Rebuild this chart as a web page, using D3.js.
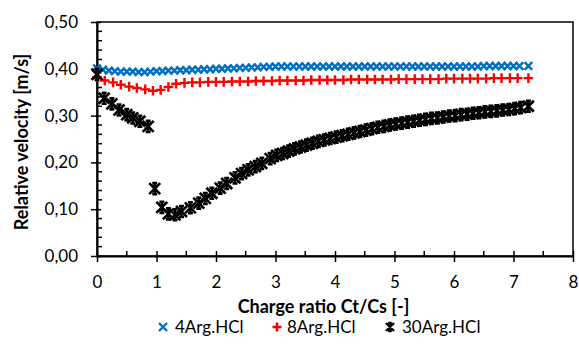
<!DOCTYPE html>
<html><head><meta charset="utf-8">
<script src="https://cdn.jsdelivr.net/npm/d3@7"></script>
<style>body{margin:0;background:#fff}svg{display:block}text{font-family:Lato,"Open Sans",sans-serif;fill:#000}</style>
</head><body><svg id="c" width="579" height="347"></svg>
<script>
const yTicks=[0,0.1,0.2,0.3,0.4,0.5];
const xTicks=[0,1,2,3,4,5,6,7,8];
const seriesNames=["4Arg.HCl","8Arg.HCl","30Arg.HCl"];
const blueX=[0,0.1,0.2,0.3,0.4,0.5,0.6,0.7,0.8,0.9,1.0,1.1,1.2,1.3,1.4,1.5,1.6,1.7,1.8,1.9,2.0,2.1,2.2,2.3,2.4,2.5,2.6,2.7,2.8,2.9,3.0,3.1,3.2,3.3,3.4,3.5,3.6,3.7,3.8,3.9,4.0,4.1,4.2,4.3,4.4,4.5,4.6,4.7,4.8,4.9,5.0,5.1,5.2,5.3,5.4,5.5,5.6,5.7,5.8,5.9,6.0,6.1,6.2,6.3,6.4,6.5,6.6,6.7,6.8,6.9,7.0,7.1,7.25];
const blueY=[0.401,0.398,0.396,0.395,0.394,0.394,0.394,0.393,0.393,0.394,0.395,0.395,0.396,0.396,0.397,0.397,0.398,0.398,0.399,0.399,0.400,0.400,0.401,0.401,0.402,0.402,0.403,0.403,0.404,0.404,0.405,0.405,0.405,0.405,0.405,0.405,0.405,0.405,0.405,0.405,0.405,0.405,0.405,0.405,0.405,0.405,0.405,0.405,0.405,0.405,0.405,0.405,0.405,0.405,0.405,0.405,0.405,0.405,0.405,0.405,0.405,0.405,0.405,0.405,0.405,0.406,0.406,0.406,0.406,0.406,0.406,0.406,0.406];
const redX=[0,0.13,0.27,0.4,0.54,0.67,0.81,0.94,1.07,1.2,1.33,1.47,1.6,1.73,1.87,2.0,2.13,2.27,2.4,2.54,2.67,2.8,2.94,3.07,3.2,3.34,3.47,3.6,3.74,3.87,4.0,4.14,4.27,4.4,4.54,4.67,4.8,4.94,5.07,5.2,5.34,5.47,5.6,5.74,5.87,6.0,6.14,6.27,6.4,6.54,6.67,6.8,6.94,7.07,7.25];
const redY=[0.382,0.375,0.371,0.366,0.362,0.359,0.356,0.353,0.355,0.361,0.368,0.370,0.371,0.371,0.372,0.372,0.372,0.373,0.373,0.373,0.374,0.374,0.374,0.375,0.375,0.375,0.375,0.376,0.376,0.376,0.376,0.376,0.377,0.377,0.377,0.377,0.377,0.377,0.378,0.378,0.378,0.378,0.378,0.378,0.379,0.379,0.379,0.379,0.379,0.379,0.380,0.380,0.380,0.380,0.380];
const blackX=[0,0.12,0.25,0.37,0.5,0.6,0.72,0.86,0.97,1.09,1.2,1.31,1.42,1.57,1.71,1.82,1.93,2.07,2.18,2.32,2.43,2.54,2.66,2.77,2.91,3.02,3.12,3.22,3.32,3.42,3.52,3.62,3.72,3.82,3.92,4.02,4.12,4.22,4.32,4.42,4.52,4.62,4.72,4.82,4.92,5.02,5.12,5.22,5.32,5.42,5.52,5.62,5.72,5.82,5.92,6.02,6.12,6.22,6.32,6.42,6.52,6.62,6.72,6.82,6.92,7.02,7.12,7.25];
const blackY=[0.388,0.337,0.325,0.312,0.302,0.295,0.288,0.277,0.144,0.104,0.090,0.088,0.095,0.103,0.113,0.123,0.134,0.145,0.155,0.167,0.176,0.184,0.191,0.198,0.208,0.215,0.219,0.224,0.229,0.233,0.237,0.241,0.245,0.248,0.251,0.254,0.257,0.260,0.263,0.266,0.269,0.272,0.275,0.277,0.280,0.282,0.284,0.286,0.288,0.290,0.292,0.294,0.295,0.297,0.299,0.300,0.302,0.303,0.305,0.306,0.308,0.309,0.310,0.312,0.313,0.315,0.317,0.320];

const svg=d3.select("#c");
const L=97,R=573,T=22,B=256;
const x=d3.scaleLinear().domain([0,8]).range([L,R]);
const y=d3.scaleLinear().domain([0,0.5]).range([B,T]);
const fmt=d=>d3.format(".2f")(d).replace(".",",");

// frame
svg.append("rect").attr("x",L).attr("y",T).attr("width",R-L).attr("height",B-T).attr("fill","none").attr("stroke","#000").attr("stroke-width",1.5);

// y axis
const yAx=svg.append("g").attr("transform",`translate(${L},0)`);
yAx.call(d3.axisLeft(y).tickValues(yTicks).tickFormat(fmt).tickSize(6).tickSizeOuter(0));
yAx.select(".domain").attr("stroke-width",2);
yAx.selectAll(".tick line").attr("x2",4).attr("x1",-6).attr("stroke-width",1.5);
yAx.selectAll(".tick text").attr("x",-19).style("font-size","17px").style("font-family","Lato");
const yMinor=d3.range(0,0.501,0.02).filter(v=>Math.abs(Math.round(v*10)-v*10)>1e-6);
yAx.selectAll(".minor").data(yMinor).enter().append("line").attr("x1",0).attr("x2",5).attr("y1",d=>y(d)).attr("y2",d=>y(d)).attr("stroke","#000").attr("stroke-width",1.5);

// x axis
const xAx=svg.append("g").attr("transform",`translate(0,${B})`);
xAx.call(d3.axisBottom(x).tickValues(xTicks).tickFormat(d3.format("d")).tickSize(6).tickSizeOuter(0));
xAx.select(".domain").attr("stroke-width",2);
xAx.selectAll(".tick line").attr("y1",-5).attr("y2",6).attr("stroke-width",1.5);
xAx.selectAll(".tick text").attr("y",20).style("font-size","17px").style("font-family","Lato");
xAx.selectAll(".minor").data(d3.range(0.5,8,1)).enter().append("line").attr("x1",d=>x(d)).attr("x2",d=>x(d)).attr("y1",0).attr("y2",-5).attr("stroke","#000").attr("stroke-width",1.5);

// titles
svg.append("text").attr("transform",`translate(22,142) rotate(-90)`).attr("dy","0.35em").attr("text-anchor","middle").style("font-size","18px").style("font-weight","bold").text("Relative velocity [m/s]");
svg.append("text").attr("x",323.5).attr("y",313).attr("text-anchor","middle").style("font-size","18px").style("font-weight","bold").text("Charge ratio Ct/Cs [-]");

// markers
function drawX(g,cx,cy,s,color,w){
  g.append("path").attr("d",`M${cx-s},${cy-s}L${cx+s},${cy+s}M${cx-s},${cy+s}L${cx+s},${cy-s}`).attr("stroke",color).attr("stroke-width",w).attr("fill","none");
}
function drawPlus(g,cx,cy,s,color,w){
  g.append("path").attr("d",`M${cx-s},${cy}L${cx+s},${cy}M${cx},${cy-s}L${cx},${cy+s}`).attr("stroke",color).attr("stroke-width",w).attr("fill","none");
}
function drawStar(g,cx,cy,s,color,w){
  g.append("path").attr("d",`M${cx-s},${cy-s}L${cx+s},${cy+s}M${cx-s},${cy+s}L${cx+s},${cy-s}M${cx},${cy-s}L${cx},${cy+s}M${cx-s*0.45},${cy-s}L${cx+s*0.45},${cy-s}M${cx-s*0.45},${cy+s}L${cx+s*0.45},${cy+s}`).attr("stroke",color).attr("stroke-width",w).attr("fill","none");
}
const gB=svg.append("g"), gR=svg.append("g"), gK=svg.append("g");
blackX.forEach((v,i)=>drawStar(gK,x(v),y(blackY[i]),5.5,"#000",2.6));
redX.forEach((v,i)=>drawPlus(gR,x(v),y(redY[i]),4.8,"#FF0000",2.4));
blueX.forEach((v,i)=>drawX(gB,x(v),y(blueY[i]),3.8,"#0070C0",2.5));
gK.raise();

// legend
const lg=svg.append("g");
const lgItems=[{n:seriesNames[0],mx:163,tx:175,f:drawX,c:"#0070C0",s:4,w:2.4},{n:seriesNames[1],mx:277,tx:287,f:drawPlus,c:"#FF0000",s:4.5,w:2.6},{n:seriesNames[2],mx:390,tx:402,f:drawStar,c:"#000",s:4,w:2.4}];
lgItems.forEach(it=>{
  it.f(lg,it.mx,327,it.s,it.c,it.w);
  lg.append("text").attr("x",it.tx).attr("y",333).style("font-size","17px").text(it.n);
});
</script></body></html>
